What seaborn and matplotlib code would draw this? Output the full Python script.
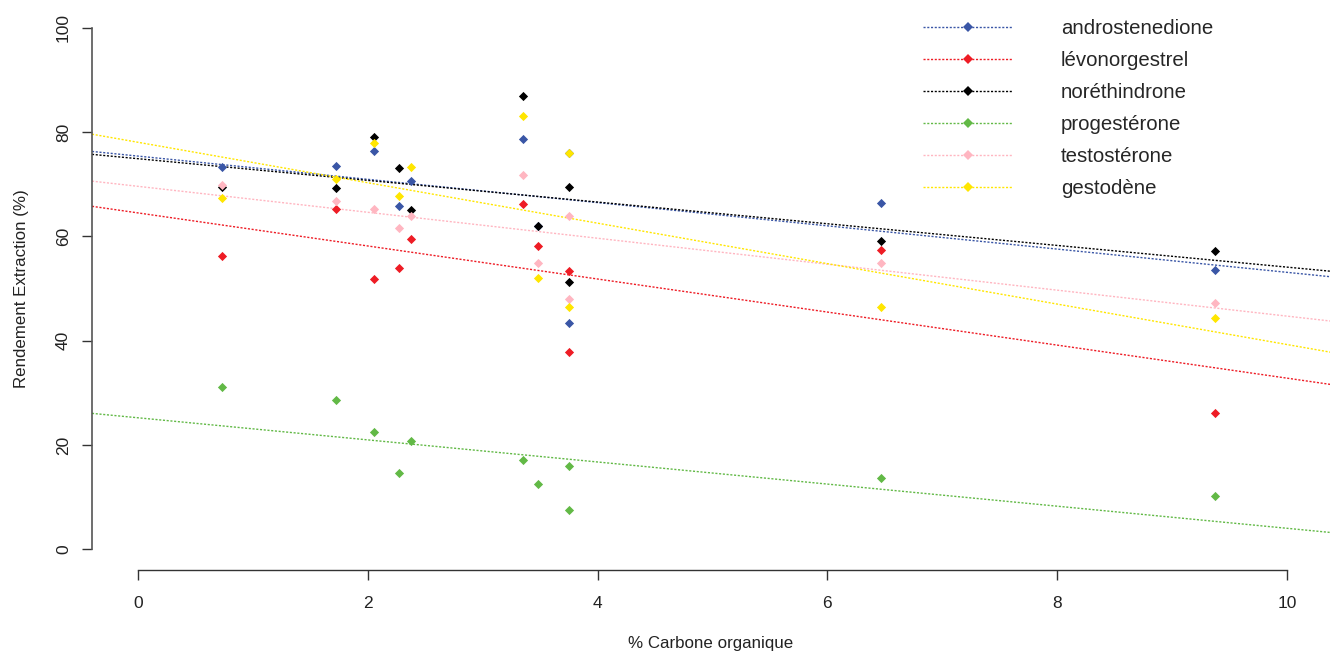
import pandas as pd
import matplotlib.pyplot as plt
import seaborn as sns
from matplotlib.lines import Line2D

sns.set_style('white')
plt.rcParams['font.family'] = ['Liberation Sans', 'DejaVu Sans']

# % carbone organique of each soil sample
carbone = [0.73, 1.72, 2.05, 2.27, 2.38, 3.35, 3.48, 3.75, 3.75, 6.47, 9.37]

androstenedione = [73.4, 73.5, 76.3, 65.8, 70.6, 78.7, 62.0, 75.9, 43.3, 66.4, 53.6]
levonorgestrel = [56.2, 65.3, 51.8, 54.0, 59.4, 66.3, 58.2, 53.3, 37.9, 57.3, 26.2]
norethindrone = [69.5, 69.2, 79.1, 73.2, 65.1, 86.9, 62.0, 69.5, 51.2, 59.1, 57.1]
progesterone = [31.2, 28.6, 22.5, 14.6, 20.7, 17.1, 12.5, 15.9, 7.6, 13.6, 10.2]
testosterone = [69.9, 66.7, 65.2, 61.7, 64.0, 71.7, 54.8, 64.0, 47.9, 54.8, 47.3]
gestodene = [67.4, 71.0, 77.9, 67.7, 73.4, 83.1, 52.1, 75.9, 46.4, 46.4, 44.3]

composes = ['androstenedione', 'lévonorgestrel', 'noréthindrone',
            'progestérone', 'testostérone', 'gestodène']
couleurs = ['#3A56A6', '#EE1C25', '#000000', '#62B946', '#FFB6C1', '#FFE600']

# regression lines (intercept, slope)
intercepts = [75.4, 64.5, 74.9, 25.2, 69.6, 78.05]
pentes = [-2.23, -3.17, -2.08, -2.12, -2.49, -3.88]

valeurs = [androstenedione, levonorgestrel, norethindrone,
           progesterone, testosterone, gestodene]
df = pd.DataFrame({
    'carbone': carbone * len(composes),
    'rendement': sum(valeurs, []),
    'compose': [c for c in composes for _ in carbone],
})

fig = plt.figure(figsize=(13.3, 6.53), dpi=100)
ax = fig.add_axes([92 / 1330, 83 / 653, 1241 / 1330, 563 / 653])

for nom, col in zip(composes, couleurs):
    sns.scatterplot(data=df[df['compose'] == nom], x='carbone', y='rendement',
                    color=col, marker='D', s=22, linewidth=0, ax=ax, legend=False,
                    zorder=3)

for b, m, col in zip(intercepts, pentes, couleurs):
    ax.axline((0, b), slope=m, color=col, lw=1, ls=(0, (1.5, 1.2)), zorder=2)

ax.set_xlim(-0.4, 10.4)
ax.set_ylim(-4, 104)
ax.set_xticks([0, 2, 4, 6, 8, 10])
ax.set_yticks([0, 20, 40, 60, 80, 100])

for s in ['top', 'right']:
    ax.spines[s].set_visible(False)
ax.spines['left'].set_bounds(0, 100)
ax.spines['bottom'].set_bounds(0, 10)
ax.spines['left'].set_color('#555555')
ax.spines['bottom'].set_color('#333333')
ax.spines['left'].set_linewidth(1.2)
ax.spines['bottom'].set_linewidth(1.0)

ax.tick_params(axis='both', bottom=True, left=True, direction='out', length=7,
               width=1, color='#333333', labelsize=12.5, labelcolor='#222222')
ax.tick_params(axis='x', pad=11.5)
ax.tick_params(axis='y', pad=8.2)
plt.setp(ax.get_yticklabels(), rotation=90, va='center')

ax.set_xlabel('% Carbone organique', fontsize=12.2, color='#222222')
ax.set_ylabel('Rendement Extraction (%)', fontsize=12.2, color='#222222')
ax.xaxis.set_label_coords(0.4988, -0.118)
ax.yaxis.set_label_coords(-0.051, 0.5)

poignees = [Line2D([0], [0], color=col, lw=1, ls=(0, (1.5, 1.2)), marker='D',
                   markersize=4.6, markeredgewidth=0, markerfacecolor=col)
            for col in couleurs]
ax.legend(poignees, composes, loc='upper left',
          bbox_to_anchor=(923 / 1330, 1 - 19 / 653), bbox_transform=fig.transFigure,
          frameon=False, fontsize=14.7, handlelength=4.4, handletextpad=2.35,
          labelspacing=0.64, borderpad=0, borderaxespad=0)

plt.savefig('out.png', dpi=100)
